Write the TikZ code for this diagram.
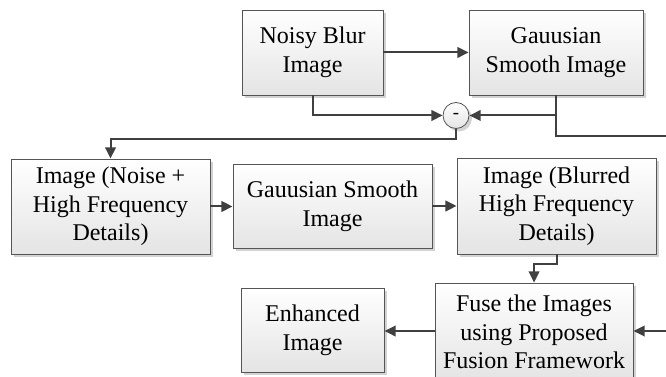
\documentclass[tikz,border=0pt]{standalone}
\usepackage{fontspec}
\setmainfont{Liberation Serif}
\usepackage{tikz}
\usetikzlibrary{positioning,arrows.meta,shadows}
\usepackage{xcolor}
\definecolor{wirecol}{HTML}{404040}
\definecolor{boxline}{HTML}{555555}
\definecolor{boxbot}{HTML}{E4E4E4}
\definecolor{shadowgray}{HTML}{D2D2D2}

\begin{document}
\begin{tikzpicture}[x=0.75pt,y=-0.75pt,>={Triangle[length=8.5pt,width=8pt]},
  blk/.style={draw=boxline,line width=0.6pt,top color=white,bottom color=boxbot,
    align=center,inner sep=0pt,font=\fontsize{18}{21.5}\selectfont,
    drop shadow={shadow xshift=2.2pt,shadow yshift=-2.2pt,fill=shadowgray,opacity=1}},
  wire/.style={draw=wirecol,line width=1.5pt}]
\useasboundingbox (0,0) rectangle (666,377);
\node[blk,minimum width=105.75pt,minimum height=63.75pt] (noisy) at (312.5,52.5) {Noisy Blur\\Image};
\node[blk,minimum width=130.5pt,minimum height=63.75pt] (smooth) at (556,52.5) {Gauusian\\Smooth Image};
\node[blk,circle,minimum size=19.5pt,font=\fontsize{14}{14}\selectfont] (minus) at (456,115.5) {-};
\node[blk,minimum width=149.25pt,minimum height=71.25pt] (detail) at (110.5,206.5) {Image (Noise +\\High Frequency\\Details)};
\node[blk,minimum width=149.25pt,minimum height=63pt] (smoothb) at (332.5,206) {Gauusian Smooth\\Image};
\node[blk,minimum width=149.25pt,minimum height=72pt] (blurred) at (556.5,206) {Image (Blurred\\High Frequency\\Details)};
\node[blk,minimum width=148.5pt,minimum height=73.5pt] (fuse) at (534,332) {Fuse the Images\\using Proposed\\Fusion Framework};
\node[blk,minimum width=107.25pt,minimum height=63pt] (enhanced) at (312.5,330) {Enhanced\\Image};
\coordinate (outa) at (666,136);
\coordinate (outb) at (666,331);
\draw[wire,->] (noisy) -- (smooth);
\draw[wire,->] (noisy.south) |- (minus.west);
\draw[wire,->] (smooth.south) |- (minus.east);
\draw[wire] (smooth.south) |- (outa);
\draw[wire,->] (minus.south) -- ++(0,10) -| (detail.north);
\draw[wire,->] (detail.east) -- (detail.east -| smoothb.west);
\draw[wire,->] (smoothb.east) -- (smoothb.east -| blurred.west);
\draw[wire,->] (blurred.south) -- ++(0,10) -| (fuse.north);
\draw[wire,->] (fuse.west |- outb) -- (enhanced.east |- outb);
\draw[wire,->] (outb) -- (fuse.east |- outb);
\end{tikzpicture}
\end{document}
